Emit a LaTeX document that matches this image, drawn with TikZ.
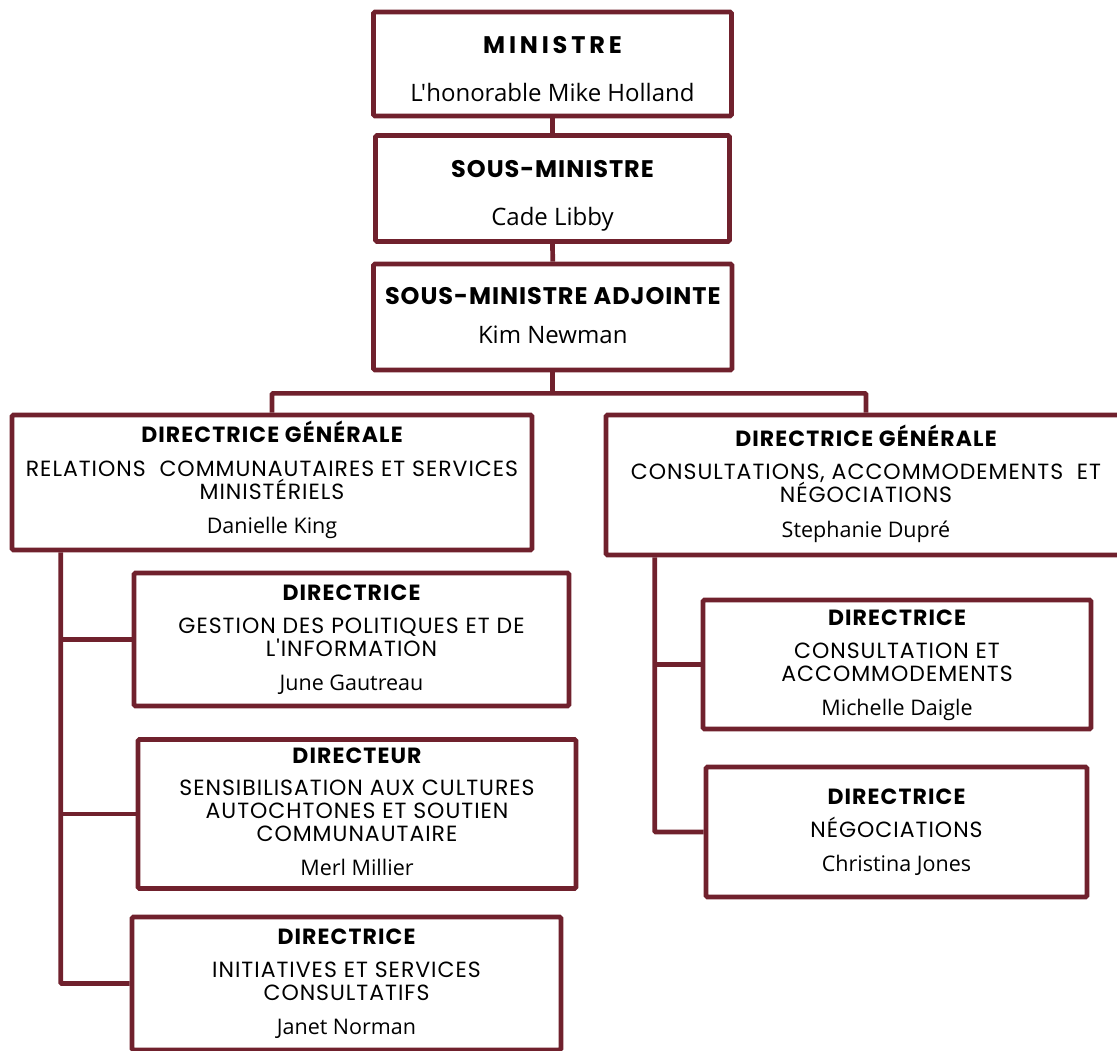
\documentclass[tikz,border=0pt]{standalone}
\usepackage{fontspec}

\definecolor{maroon}{RGB}{112,33,45}

\newfontfamily\titlefam{Poppins}
\newfontfamily\unitfam{Poppins}[Ligatures=TeXOff]
\newfontfamily\namefam{Open Sans}[Ligatures=TeXOff]

\newcommand{\bigtitle}{\titlefam\bfseries\fontsize{24}{23}\selectfont\addfontfeature{LetterSpace=4}}
\newcommand{\bigname}{\namefam\fontsize{24}{23}\selectfont}
\newcommand{\lowtitle}{\titlefam\bfseries\fontsize{22}{23}\selectfont\addfontfeature{LetterSpace=5}}
\newcommand{\unittext}{\unitfam\fontsize{22}{23}\selectfont\addfontfeature{LetterSpace=4.5}}
\newcommand{\lowname}{\namefam\fontsize{21.5}{23}\selectfont}
% struts that fix where the text block sits in its box
\newcommand{\up}[1]{\rule{0pt}{#1pt}}
\newcommand{\dn}[1]{\rule[-#1pt]{0pt}{#1pt}}

\setlength{\lineskiplimit}{-100pt}

\begin{document}
\begin{tikzpicture}[x=1pt, y=-1pt, line width=4.7pt,
	box/.style={draw=maroon, fill=white, rounded corners=1.5pt, align=center,
		inner sep=0pt, text=black, font=\unittext},
	link/.style={draw=maroon, rounded corners=1pt}]
	
	\useasboundingbox (0,0) rectangle (1117,1051);
	
	% top of the chain
	\node[box, minimum width=358pt, minimum height=104pt] (min) at (552.5,64)
	{{\up{36}\bigtitle\addfontfeature{LetterSpace=16}MINISTRE}\\[25pt]
		{\bigname L'honorable Mike Holland\dn{8}}};
	\node[box, minimum width=354pt, minimum height=106pt] (sm) at (552.5,188.5)
	{{\up{35}\bigtitle SOUS-MINISTRE}\\[25pt]
		{\bigname Cade Libby\dn{8}}};
	\node[box, minimum width=358.5pt, minimum height=106pt] (sma) at (552.75,317)
	{{\up{24}\bigtitle SOUS-MINISTRE ADJOINTE}\\[16pt]
		{\bigname Kim Newman\dn{11}}};
	
	% the two branches
	\node[box, minimum width=520pt, minimum height=135pt] (dgl) at (272,482.5)
	{{\up{24}\lowtitle DIRECTRICE GÉNÉRALE}\\[11pt]
		{\unittext RELATIONS\ \ COMMUNAUTAIRES ET SERVICES}\\
		{\unittext MINISTÉRIELS}\\[11pt]
		{\lowname Danielle King\dn{13}}};
	\node[box, minimum width=520pt, minimum height=140pt] (dgr) at (866,485)
	{{\up{26}\lowtitle DIRECTRICE GÉNÉRALE}\\[10pt]
		{\unittext CONSULTATIONS, ACCOMMODEMENTS\ \ ET}\\
		{\unittext NÉGOCIATIONS}\\[12pt]
		{\lowname Stephanie Dupré\dn{13}}};
	
	\node[box, minimum width=435pt, minimum height=133pt] (gest) at (351.5,639.5)
	{{\up{24}\lowtitle DIRECTRICE}\\[10pt]
		{\unittext GESTION DES POLITIQUES ET DE}\\
		{\unittext L'INFORMATION}\\[11pt]
		{\lowname June Gautreau\dn{13}}};
	\node[box, minimum width=438pt, minimum height=146pt] (dteur) at (357,814)
	{{\up{24}\lowtitle DIRECTEUR}\\[9pt]
		{\unittext SENSIBILISATION AUX CULTURES}\\
		{\unittext AUTOCHTONES ET SOUTIEN}\\
		{\unittext COMMUNAUTAIRE}\\[11pt]
		{\lowname Merl Millier\dn{13}}};
	\node[box, minimum width=429pt, minimum height=133pt] (init) at (346.5,983.5)
	{{\up{25}\lowtitle DIRECTRICE}\\[10pt]
		{\unittext INITIATIVES ET SERVICES}\\
		{\unittext CONSULTATIFS}\\[11pt]
		{\lowname Janet Norman\dn{13}}};
	
	\node[box, minimum width=388pt, minimum height=129pt] (ca) at (897,664.5)
	{{\up{24}\lowtitle DIRECTRICE}\\[10pt]
		{\unittext CONSULTATION ET}\\
		{\unittext ACCOMMODEMENTS}\\[11pt]
		{\lowname Michelle Daigle\dn{13}}};
	\node[box, minimum width=381pt, minimum height=130pt] (neg) at (896.5,832)
	{{\up{24}\lowtitle DIRECTRICE}\\[10pt]
		{\unittext NÉGOCIATIONS}\\[11pt]
		{\lowname Christina Jones\dn{13}}};
	
	\draw[link] (min.south) -- (sm.north);
	\draw[link] (sm.south) -- (sma.north);
	\draw[link] (sma.south) -- ++(0,21) coordinate (bar);
	\draw[link] (dgl.north) |- (bar) -| (dgr.north);
	
	\coordinate (ltrunk) at ([xshift=51pt]dgl.south west);
	\coordinate (rtrunk) at ([xshift=51pt]dgr.south west);
	
	\draw[link] (ltrunk) |- (init.west);
	\foreach \b in {gest,dteur}
	\draw[link] (ltrunk |- \b.west) -- (\b.west);
	
	\draw[link] (rtrunk) |- (neg.west);
	\draw[link] (rtrunk |- ca.west) -- (ca.west);
	
\end{tikzpicture}
\end{document}
